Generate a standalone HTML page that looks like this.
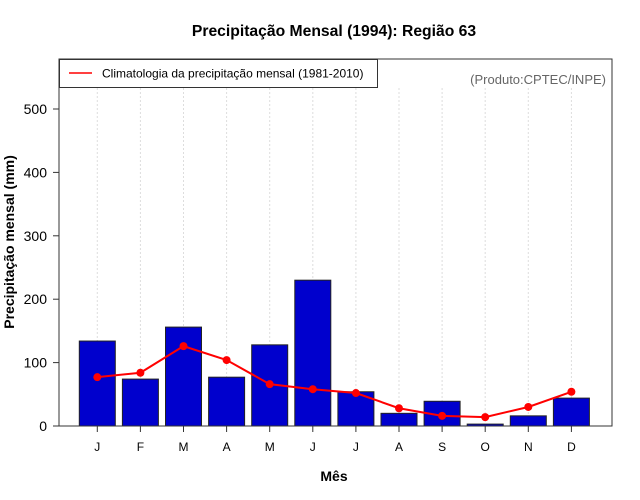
<!DOCTYPE html>
<html><head><meta charset="utf-8"><style>
body{margin:0;background:#fff}
svg{display:block;font-family:"Liberation Sans",sans-serif}
</style></head><body>
<svg id="c" width="640" height="500" viewBox="0 0 640 500">
<text x="334" y="36" text-anchor="middle" font-size="15.7" font-weight="bold">Precipitação Mensal (1994): Região 63</text>
<text x="334" y="481" text-anchor="middle" font-size="14" font-weight="bold">Mês</text>
<text transform="translate(14,242) rotate(-90)" text-anchor="middle" font-size="14" font-weight="bold">Precipitação mensal (mm)</text>
<g id="grid"></g><g id="bars"></g><g id="line"></g><g id="axes"></g>
<rect x="59" y="59" width="553" height="367" fill="none" stroke="#333" stroke-width="1"/>
<g>
<rect x="59.5" y="59.5" width="318" height="28" fill="#fff" stroke="#333"/>
<line x1="69" y1="73" x2="92" y2="73" stroke="red" stroke-width="1.5"/>
<text x="102" y="77.5" font-size="12">Climatologia da precipitação mensal (1981-2010)</text>
</g>
<text x="606" y="84" text-anchor="end" font-size="13" fill="#666">(Produto:CPTEC/INPE)</text>
</svg>
<script>
const months=["J","F","M","A","M","J","J","A","S","O","N","D"];
const observed=[134,74,156,77,128,230,54,20,39,3,16,44];
const climatology=[77,84,126,104,66,58,52,28,16,14,30,54];
const yTicks=[0,100,200,300,400,500];
const ns="http://www.w3.org/2000/svg";
const X=i=>97.3+i*43.1;
const Y=v=>426-v*0.634;
function mk(t,a,p){const e=document.createElementNS(ns,t);for(const k in a)e.setAttribute(k,a[k]);p.appendChild(e);return e;}
const grid=document.getElementById('grid'),bars=document.getElementById('bars'),line=document.getElementById('line'),axes=document.getElementById('axes');
months.forEach((m,i)=>{
 const g=mk('line',{x1:X(i),x2:X(i),y1:88,y2:426,stroke:'#ddd','stroke-dasharray':'2,2'},grid);
 
 
 const b=mk('rect',{x:X(i)-18,y:Y(observed[i]),width:36,height:426-Y(observed[i]),fill:'#0000cd',stroke:'#222','stroke-width':1},bars);
 
 
 const t=mk('line',{x1:X(i),x2:X(i),y1:426,y2:432,stroke:'#333'},axes);
 
 
 const l=mk('text',{x:X(i),y:451,'text-anchor':'middle','font-size':12},axes);l.textContent=m;
 
 
});
const pl=mk('polyline',{points:climatology.map((v,i)=>X(i)+','+Y(v)).join(' '),fill:'none',stroke:'red','stroke-width':2},line);


climatology.forEach((v,i)=>{
 const c=mk('circle',{cx:X(i),cy:Y(v),r:4,fill:'red'},line);
 
 
});
yTicks.forEach(v=>{
 const t=mk('line',{x1:53,x2:59,y1:Y(v),y2:Y(v),stroke:'#333'},axes);
 
 
 const l=mk('text',{x:47,y:Y(v)+5,'text-anchor':'end','font-size':14},axes);l.textContent=v;
 
 
});
</script>
</body></html>
